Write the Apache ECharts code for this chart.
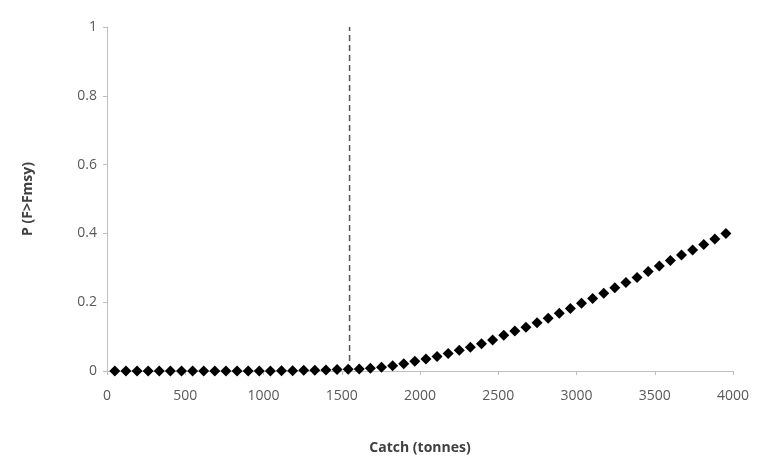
<!DOCTYPE html>
<html>
<head>
<meta charset="utf-8">
<script src="https://cdn.jsdelivr.net/npm/echarts@6/dist/echarts.min.js"></script>
<style>
  html, body { margin: 0; padding: 0; background: #fff; }
  #chart { width: 757px; height: 463px; }
</style>
</head>
<body>
<div id="chart"></div>
<script>
// catch levels (tonnes)
const catches = [
  50, 121, 192, 263, 334, 405, 476, 547, 618, 689,
  760, 831, 902, 973, 1044, 1115, 1186, 1257, 1328, 1399,
  1470, 1541, 1612, 1683, 1754, 1825, 1896, 1967, 2038, 2109,
  2180, 2251, 2322, 2393, 2464, 2535, 2606, 2677, 2748, 2819,
  2890, 2961, 3032, 3103, 3174, 3245, 3316, 3387, 3458, 3529,
  3600, 3671, 3742, 3813, 3884, 3955
]
// probability F > Fmsy
const probs = [
  0, 0, 0, 0, 0, 0, 0, 0, 0, 0,
  0, 0, 0, 0, 0, 0.001, 0.001, 0.002, 0.002, 0.003,
  0.004, 0.005, 0.006, 0.008, 0.011, 0.015, 0.021, 0.028, 0.035, 0.042,
  0.051, 0.060, 0.069, 0.079, 0.090, 0.104, 0.116, 0.127, 0.140, 0.153,
  0.168, 0.182, 0.197, 0.211, 0.226, 0.242, 0.257, 0.272, 0.289, 0.305,
  0.321, 0.337, 0.352, 0.368, 0.384, 0.400
]
// reference catch marked by the dashed line
const refCatch = [[1550, 0], [1550, 1]]

const xTicks = { min: 0, max: 4000, interval: 500 }
const yTicks = { min: 0, max: 1, interval: 0.2 }

const chart = echarts.init(document.getElementById('chart'))

const labelFont = { color: '#595959', fontSize: 14, fontFamily: 'Open Sans' }
const nameFont = { color: '#404040', fontSize: 14, fontWeight: 'bold', fontFamily: 'Open Sans' }

chart.setOption({
  animation: false,
  backgroundColor: '#fff',
  grid: { left: 107, right: 24, top: 27, bottom: 92 },
  xAxis: {
    type: 'value',
    ...xTicks,
    name: 'Catch (tonnes)',
    nameLocation: 'middle',
    nameGap: 70,
    nameTextStyle: nameFont,
    axisLine: { show: true, lineStyle: { color: '#bfbfbf' } },
    axisTick: { show: true, length: 4, lineStyle: { color: '#bfbfbf' } },
    axisLabel: { ...labelFont, margin: 18, formatter: v => String(v) },
    splitLine: { show: false }
  },
  yAxis: {
    type: 'value',
    ...yTicks,
    name: 'P (F>Fmsy)',
    nameLocation: 'middle',
    nameGap: 72,
    nameTextStyle: nameFont,
    axisLine: { show: true, lineStyle: { color: '#bfbfbf' } },
    axisTick: { show: true, length: 4, lineStyle: { color: '#bfbfbf' } },
    axisLabel: { ...labelFont, margin: 10, formatter: v => String(v) },
    splitLine: { show: false }
  },
  series: [
    {
      name: 'ref',
      type: 'line',
      data: refCatch,
      symbol: 'none',
      lineStyle: { color: '#555', width: 1.5, type: [6, 4] },
      z: 1
    },
    {
      name: 'P(F>Fmsy)',
      type: 'scatter',
      data: catches.map((c, i) => [c, probs[i]]),
      symbol: 'diamond',
      symbolSize: 11,
      itemStyle: { color: '#000', opacity: 1 },
      z: 2
    }
  ]
})
</script>
</body>
</html>
